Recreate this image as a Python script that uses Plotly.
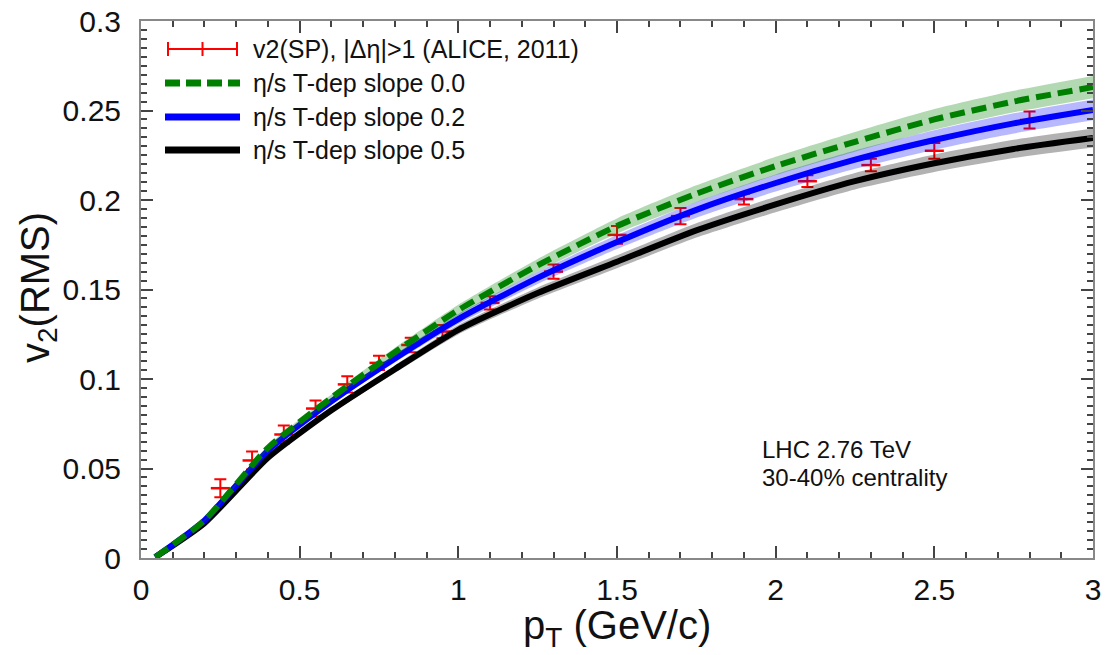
import plotly.graph_objects as go

# ---------------- data ----------------
alice_pt = [0.25, 0.35, 0.45, 0.55, 0.65, 0.75, 0.85, 0.95, 1.1, 1.3, 1.5, 1.7, 1.9, 2.1, 2.3, 2.5, 2.8]
alice_v2 = [0.039, 0.0545, 0.069, 0.0835, 0.097, 0.109, 0.119, 0.1265, 0.1425, 0.160, 0.1805, 0.191,
            0.2005, 0.2105, 0.2195, 0.2275, 0.2447]
alice_err = [0.005, 0.005, 0.005, 0.0045, 0.0045, 0.004, 0.004, 0.0037, 0.0037, 0.004, 0.005, 0.0045,
             0.003, 0.0033, 0.0035, 0.0044, 0.0047]
alice_pt_err = [0.03] * len(alice_pt)

model_pt = [0.045, 0.2, 0.4, 0.6, 0.8, 1.0, 1.25, 1.5, 1.75, 2.0, 2.25, 2.5, 2.75, 3.0]
v2_slope00 = [0.0005, 0.021, 0.0615, 0.0895, 0.115, 0.1385, 0.1635, 0.1855, 0.2035, 0.219, 0.2325, 0.245, 0.255, 0.2631]
v2_slope02 = [0.0005, 0.021, 0.060, 0.0875, 0.1115, 0.1335, 0.1565, 0.1765, 0.1945, 0.2095, 0.2225, 0.2335, 0.2428, 0.2503]
v2_slope05 = [0.0005, 0.0195, 0.056, 0.0825, 0.1055, 0.1275, 0.148, 0.1655, 0.183, 0.1975, 0.2105, 0.2205, 0.2285, 0.2346]
band_slope00 = [0.0, 0.0005, 0.0012, 0.0018, 0.0024, 0.003, 0.0036, 0.0042, 0.0047, 0.0051, 0.0055, 0.0058, 0.006, 0.0062]
band_slope02 = [0.0, 0.0005, 0.0012, 0.0017, 0.0023, 0.0028, 0.0034, 0.0039, 0.0044, 0.0048, 0.0051, 0.0054, 0.0056, 0.0058]
band_slope05 = [0.0, 0.0004, 0.0011, 0.0016, 0.0021, 0.0026, 0.0031, 0.0036, 0.004, 0.0043, 0.0046, 0.0049, 0.0051, 0.0053]

legend_labels = ["v2(SP), |\u0394\u03b7|>1 (ALICE, 2011)",
                 "\u03b7/s T-dep slope 0.0",
                 "\u03b7/s T-dep slope 0.2",
                 "\u03b7/s T-dep slope 0.5"]

FONT = "Liberation Sans, Arial, sans-serif"
W, H = 1111, 655
L, R, T, B = 141, 18, 21, 97
PW, PH = W - L - R, H - T - B


def px(xpix):
    return (xpix - L) / PW


def py(ypix):
    return (H - B - ypix) / PH


fig = go.Figure()

# data points (drawn first, bands go over them)
fig.add_trace(go.Scatter(
    x=alice_pt, y=alice_v2, mode="markers",
    marker=dict(size=1, color="red", opacity=0),
    error_y=dict(type="data", array=alice_err, color="red", thickness=2, width=6),
    error_x=dict(type="data", array=alice_pt_err, color="red", thickness=2.5, width=0),
    showlegend=False, hoverinfo="skip"))

models = [
    (v2_slope05, band_slope05, "black", "rgba(0,0,0,0.3)", "solid"),
    (v2_slope02, band_slope02, "blue", "rgba(0,0,255,0.28)", "solid"),
    (v2_slope00, band_slope00, "green", "rgba(0,128,0,0.3)", "15px,7px"),
]
for vals, band, col, fcol, dash in models:
    up = [v + e for v, e in zip(vals, band)]
    lo = [v - e for v, e in zip(vals, band)]
    fig.add_trace(go.Scatter(x=model_pt, y=up, mode="lines",
                             line=dict(width=0, color=fcol, shape="spline", smoothing=0.6),
                             showlegend=False, hoverinfo="skip"))
    fig.add_trace(go.Scatter(x=model_pt, y=lo, mode="lines",
                             line=dict(width=0, color=fcol, shape="spline", smoothing=0.6),
                             fill="tonexty", fillcolor=fcol, showlegend=False, hoverinfo="skip"))
    fig.add_trace(go.Scatter(x=model_pt, y=vals, mode="lines",
                             line=dict(color=col, width=6, dash=dash, shape="spline", smoothing=0.6),
                             showlegend=False))

axis_common = dict(
    showline=True, linecolor="#888888", linewidth=2, mirror="allticks",
    ticks="inside", ticklen=12, tickwidth=1.5, tickcolor="#444444",
    showgrid=False, zeroline=False, automargin=False,
    tickfont=dict(family=FONT, size=30, color="#111111"),
)
fig.update_xaxes(range=[0, 3], tick0=0, dtick=0.5, ticklabelstandoff=4,
                 minor=dict(dtick=0.1, ticks="inside", ticklen=6, tickwidth=1.5, tickcolor="#444444"),
                 **axis_common)
fig.update_yaxes(range=[0, 0.3], tick0=0, dtick=0.05, ticklabelstandoff=12,
                 minor=dict(dtick=0.005, ticks="inside", ticklen=6, tickwidth=1.5, tickcolor="#444444"),
                 **axis_common)

shapes = []
annotations = []
# custom legend
rows_y = [49, 83, 117, 150]
# red error-bar symbol
shapes.append(dict(type="line", xref="paper", yref="paper", x0=px(168), x1=px(237),
                   y0=py(rows_y[0]), y1=py(rows_y[0]), line=dict(color="red", width=2)))
for xx in (168, 202.5, 237):
    shapes.append(dict(type="line", xref="paper", yref="paper", x0=px(xx), x1=px(xx),
                       y0=py(rows_y[0] - 7), y1=py(rows_y[0] + 7), line=dict(color="red", width=2)))
leg_styles = [("green", "15px,6px"), ("blue", "solid"), ("black", "solid")]
for (col, dash), yy in zip(leg_styles, rows_y[1:]):
    shapes.append(dict(type="line", xref="paper", yref="paper", x0=px(165), x1=px(240),
                       y0=py(yy), y1=py(yy), line=dict(color=col, width=7, dash=dash)))
for lab, yy in zip(legend_labels, rows_y):
    annotations.append(dict(text=lab, xref="paper", yref="paper", x=px(251), y=py(yy),
                            xanchor="left", yanchor="middle", showarrow=False,
                            font=dict(family=FONT, size=25, color="#111111")))

annotations.append(dict(text="LHC 2.76 TeV", xref="paper", yref="paper", x=px(760), y=py(449),
                        xanchor="left", yanchor="middle", showarrow=False,
                        font=dict(family=FONT, size=24, color="#111111")))
annotations.append(dict(text="30-40% centrality", xref="paper", yref="paper", x=px(760), y=py(478),
                        xanchor="left", yanchor="middle", showarrow=False,
                        font=dict(family=FONT, size=24, color="#111111")))
# axis titles
annotations.append(dict(text="v<sub>2</sub>(RMS)", xref="paper", yref="paper", x=px(38), y=py(288),
                        xanchor="center", yanchor="middle", textangle=-90, showarrow=False,
                        font=dict(family=FONT, size=40, color="#111111")))
annotations.append(dict(text="p<sub>T</sub> (GeV/c)", xref="paper", yref="paper", x=px(617), y=py(628),
                        xanchor="center", yanchor="middle", showarrow=False,
                        font=dict(family=FONT, size=40, color="#111111")))

fig.update_layout(width=W, height=H, margin=dict(l=L, r=R, t=T, b=B),
                  plot_bgcolor="white", paper_bgcolor="white",
                  shapes=shapes, annotations=annotations, showlegend=False)

fig.write_html("out.html")
